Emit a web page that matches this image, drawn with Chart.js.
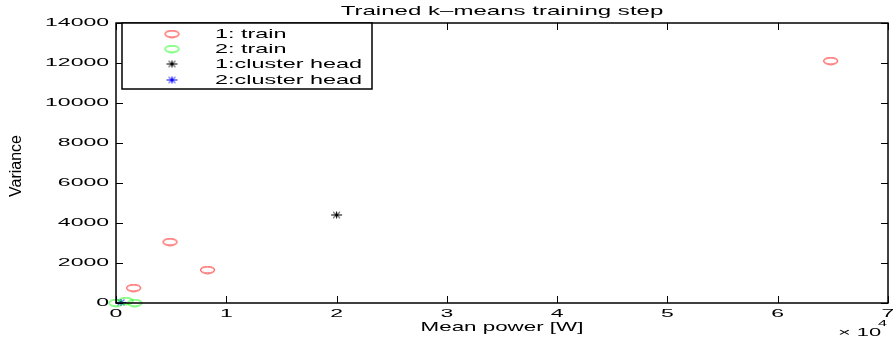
<!DOCTYPE html>
<html>
<head>
<meta charset="utf-8">
<script src="https://cdn.jsdelivr.net/npm/chart.js@4.4.1/dist/chart.umd.min.js"></script>
<style>
  html, body { margin: 0; padding: 0; background: #fff; }
  canvas { display: block; }
</style>
</head>
<body>
<canvas id="kmeans" width="893" height="342"></canvas>
<script>
// datos
const seriesLabels = ['1: train', '2: train', '1:cluster head', '2:cluster head'];
const train1X = [64800, 4900, 8300, 1600];
const train1Y = [12100, 3050, 1650, 750];
const train2X = [0, 900, 1700];
const train2Y = [0, 100, 0];
const head1X = [20000];
const head1Y = [4400];
const head2X = [450];
const head2Y = [30];

const xTickLabels = ['0', '1', '2', '3', '4', '5', '6', '7'];
const xFactor = 10000; // eje x en unidades de 10^4
const yTickLabels = ['0', '2000', '4000', '6000', '8000', '10000', '12000', '14000'];

const FONT = '"Liberation Sans", Arial, sans-serif';

function toPoints(xs, ys) {
    return xs.map((x, i) => ({ x: x, y: ys[i] }));
}

// marcador tipo elipse (circulo de matlab estirado)
function ellipseMarker(color) {
    const c = document.createElement('canvas');
    c.width = 17; c.height = 9;
    const g = c.getContext('2d');
    g.strokeStyle = color;
    g.lineWidth = 1;
    g.beginPath();
    g.ellipse(8.5, 4.5, 7, 3.3, 0, 0, Math.PI * 2);
    g.stroke();
    return c;
}

function starMarker(color) {
    const c = document.createElement('canvas');
    c.width = 13; c.height = 9;
    const g = c.getContext('2d');
    g.strokeStyle = color;
    g.lineWidth = 1;
    g.beginPath();
    g.moveTo(1, 4.5); g.lineTo(12, 4.5);
    g.moveTo(6.5, 1); g.lineTo(6.5, 8);
    g.moveTo(3, 1.5); g.lineTo(10, 7.5);
    g.moveTo(3, 7.5); g.lineTo(10, 1.5);
    g.stroke();
    return c;
}

const markers = [ellipseMarker('#ff0000'), ellipseMarker('#00ff00'), starMarker('#000000'), starMarker('#0000ff')];

function stretchText(ctx, text, x, y, size, sx, align, rot, family) {
    ctx.save();
    ctx.translate(x, y);
    if (rot) ctx.rotate(rot);
    ctx.scale(sx, 1);
    ctx.font = size + 'px ' + (family || FONT);
    ctx.textAlign = align;
    ctx.textBaseline = 'middle';
    ctx.fillStyle = '#000';
    ctx.fillText(text, 0, 0);
    ctx.restore();
}

const matlabFrame = {
    id: 'matlabFrame',
    afterDraw(chart) {
        const ctx = chart.ctx;
        const a = chart.chartArea;
        const xs = chart.scales.x, ys = chart.scales.y;

        // caja de ejes
        ctx.save();
        ctx.strokeStyle = '#000';
        ctx.lineWidth = 1.5;
        ctx.strokeRect(a.left, a.top, a.right - a.left, a.bottom - a.top);
        ctx.lineWidth = 1;
        ctx.beginPath();
        xTickLabels.forEach(l => {
            const px = Math.round(xs.getPixelForValue(Number(l) * xFactor)) + 0.5;
            ctx.moveTo(px, a.bottom); ctx.lineTo(px, a.bottom - 7);
            ctx.moveTo(px, a.top); ctx.lineTo(px, a.top + 7);
        });
        yTickLabels.forEach(l => {
            const py = Math.round(ys.getPixelForValue(Number(l))) + 0.5;
            ctx.moveTo(a.left, py); ctx.lineTo(a.left + 7, py);
            ctx.moveTo(a.right, py); ctx.lineTo(a.right - 7, py);
        });
        ctx.stroke();
        ctx.restore();

        // etiquetas de ticks
        xTickLabels.forEach(l => {
            stretchText(ctx, l, xs.getPixelForValue(Number(l) * xFactor), 314, 11.5, 2.0, 'center');
        });
        yTickLabels.forEach(l => {
            stretchText(ctx, l, 109, ys.getPixelForValue(Number(l)), 11.5, 2.0, 'right');
        });

        // titulos
        const cx = (a.left + a.right) / 2;
        stretchText(ctx, 'Trained k\u2013means training step', cx, 11, 13, 1.85, 'center');
        stretchText(ctx, 'Mean power [W]', cx, 327, 13, 1.72, 'center');
        stretchText(ctx, 'Variance', 17, 166, 16, 1.0, 'center', -Math.PI / 2,
            '"Liberation Sans Narrow", "Liberation Sans", Arial, sans-serif');
        stretchText(ctx, '\u00d7 10', 838, 333, 11.5, 1.9, 'left');
        stretchText(ctx, '4', 878, 324, 9, 1.8, 'left');

        // leyenda
        ctx.save();
        ctx.fillStyle = '#fff';
        ctx.fillRect(122, 23, 250, 66);
        ctx.strokeStyle = '#000';
        ctx.lineWidth = 1.5;
        ctx.strokeRect(122, 23, 250, 66);
        ctx.restore();
        const rows = [34, 49, 64, 80];
        seriesLabels.forEach((lab, i) => {
            const m = markers[i];
            ctx.drawImage(m, 172 - m.width / 2, rows[i] - m.height / 2);
            stretchText(ctx, lab, 215, rows[i], 13, 1.8, 'left');
        });
    }
};

const ctx = document.getElementById('kmeans').getContext('2d');
const chart = new Chart(ctx, {
    type: 'scatter',
    data: {
        datasets: [
            { label: seriesLabels[0], data: toPoints(train1X, train1Y), pointStyle: markers[0], clip: false },
            { label: seriesLabels[1], data: toPoints(train2X, train2Y), pointStyle: markers[1], clip: false },
            { label: seriesLabels[2], data: toPoints(head1X, head1Y), pointStyle: markers[2], clip: false },
            { label: seriesLabels[3], data: toPoints(head2X, head2Y), pointStyle: markers[3], clip: false }
        ]
    },
    options: {
        responsive: false,
        animation: false,
        events: [],
        layout: { padding: { top: 23, right: 2, left: 0, bottom: 0 } },
        plugins: {
            legend: { display: false },
            tooltip: { enabled: false }
        },
        scales: {
            x: {
                type: 'linear', min: 0, max: 70000,
                ticks: { display: false, stepSize: xFactor },
                grid: { display: false },
                border: { display: false },
                afterFit: s => { s.height = 39; }
            },
            y: {
                type: 'linear', min: 0, max: 14000,
                ticks: { display: false, stepSize: 2000 },
                grid: { display: false },
                border: { display: false },
                afterFit: s => { s.width = 116; }
            }
        }
    },
    plugins: [matlabFrame]
});
</script>
</body>
</html>
